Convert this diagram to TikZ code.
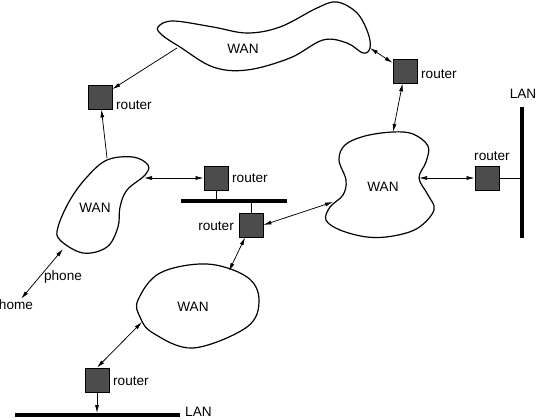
\documentclass[tikz,border=0pt]{standalone}
\usepackage{fontspec}
\setmainfont{Liberation Sans}
\usetikzlibrary{arrows.meta,positioning}

\begin{document}
\begin{tikzpicture}[x=1pt,y=-1pt,>={Latex[length=8pt,width=4pt]},
	router/.style={draw,line width=0.8pt,fill=black!70,minimum size=24pt,inner sep=0pt},
	lbl/.style={font=\fontsize{13.6}{16}\selectfont,inner sep=1pt},
	wan/.style={line width=1.2pt},
	bar/.style={line width=4.6pt},
	link/.style={line width=0.75pt}]
	\useasboundingbox (0,0) rectangle (536,420);
	\draw[wan] plot[smooth cycle,tension=0.6] coordinates {(158,27) (173,21) (213,27) (247,33) (280,27) (317,8) (337,2) (357,13) (368,33) (370,48) (363,53) (347,43) (323,40) (290,58) (247,70) (213,67) (180,47) (162,35)};
	\draw[wan] plot[smooth cycle,tension=0.6] coordinates {(133,157) (148,165) (145,175) (127,190) (120,207) (118,227) (107,247) (83,253) (60,240) (58,227) (70,200) (87,177) (107,160)};
	\draw[wan] plot[smooth cycle,tension=0.6] coordinates {(393,132) (413,134) (428,146) (426,162) (419,178) (428,195) (434,210) (418,228) (393,236) (367,237) (340,230) (326,220) (330,207) (343,195) (346,180) (339,160) (345,145) (365,136)};
	\draw[wan] plot[smooth cycle,tension=0.6] coordinates {(138,300) (160,273) (207,264) (247,277) (259,300) (247,327) (193,348) (153,333) (140,317)};
	\node[lbl] (wanT) at (243,49) {WAN};
	\node[lbl] (wanL) at (95,208) {WAN};
	\node[lbl] (wanR) at (383,187) {WAN};
	\node[lbl] (wanB) at (193,307) {WAN};
	\coordinate (wanTa) at (177,48);
	\coordinate (wanTb) at (370,48);
	\coordinate (wanLa) at (107,158);
	\coordinate (wanLb) at (144,178);
	\coordinate (wanLc) at (63,249);
	\coordinate (wanRa) at (393,132);
	\coordinate (wanRb) at (419,178);
	\coordinate (wanRc) at (333,202);
	\coordinate (wanBa) at (229,271);
	\coordinate (wanBb) at (142,322);
	\draw[bar] (522,107) coordinate (lanRtop) -- (522,238) coordinate (lanRbot);
	\draw[bar] (181,201) coordinate (midL) -- (287,201) coordinate (midR);
	\draw[bar] (15,415) coordinate (lanBL) -- (180,415) coordinate (lanBR);
	\node[lbl] (lanRlbl) at (523,94) {LAN};
	\node[lbl,anchor=west] (lanBlbl) at (184,412) {LAN};
	\node[router] (r1) at (100,97) {};
	\node[router] (r2) at (405,71) {};
	\node[router] (r3) at (216,178) {};
	\node[router] (r4) at (487,178) {};
	\node[router] (r5) at (251,225) {};
	\node[router] (r6) at (97,380) {};
	\node[lbl,anchor=west] (r1lbl) at (115,105) {router};
	\node[lbl,anchor=west] (r2lbl) at (420,74) {router};
	\node[lbl,anchor=west] (r3lbl) at (231,178) {router};
	\node[lbl] (r4lbl) at (492,156) {router};
	\node[lbl,anchor=east] (r5lbl) at (235,226) {router};
	\node[lbl,anchor=west] (r6lbl) at (112,381) {router};
	\node[lbl] (home) at (16,305) {home};
	\node[lbl] (phone) at (63,277) {phone};
	\coordinate (lanRa) at (522,178);
	\coordinate (midA) at (216,199);
	\coordinate (midB) at (251,203);
	\coordinate (lanBa) at (97,413);
	\draw[link,->] (wanTa) -- (r1);
	\draw[link,->] (wanLa) -- (r1);
	\draw[link,<->] (wanLb) -- (r3);
	\draw[link,<->] (wanTb) -- (r2);
	\draw[link,<->] (r2) -- (wanRa);
	\draw[link,<->] (wanRb) -- (r4);
	\draw[link] (r4) -- (lanRa);
	\draw[link] (r3) -- (midA);
	\draw[link] (midB) -- (r5);
	\draw[link,<->] (r5.east) -- (wanRc);
	\draw[link,<->] (r5) -- (wanBa);
	\draw[link,<->] (r6.north) -- (wanBb);
	\draw[link,->] (r6) -- (lanBa);
	\draw[link,<->] (wanLc) -- (home);
\end{tikzpicture}
\end{document}
